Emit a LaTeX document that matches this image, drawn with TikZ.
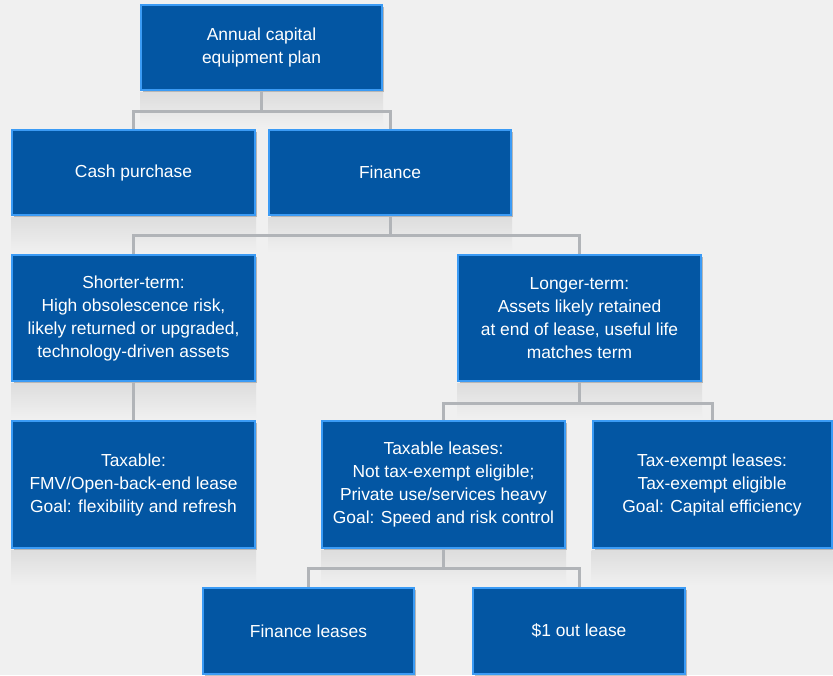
\documentclass[tikz,border=0pt]{standalone}
\usepackage{fontspec}
\setmainfont{Liberation Sans}
\usetikzlibrary{shadows,backgrounds,calc}
\definecolor{bgc}{HTML}{F0F0F0}
\definecolor{boxfill}{HTML}{0356A3}
\definecolor{boxline}{HTML}{3B9BF5}
\definecolor{conn}{HTML}{B1B4B8}
\definecolor{refl}{HTML}{DDDDDD}
\begin{document}
\begin{tikzpicture}[x=1pt,y=1pt,
  box/.style={draw=boxline, line width=2pt, fill=boxfill, text=white,
    align=center, inner sep=0pt, font=\fontsize{17.4}{23}\selectfont,
    drop shadow={shadow xshift=2pt, shadow yshift=-2pt, opacity=0.35, fill=black!70}},
  link/.style={draw=conn, line width=3pt}]
\useasboundingbox (0,0) rectangle (833,-675);
\node[box, minimum width=241pt, minimum height=85pt] (root) at (261.5,-47.5) {Annual capital\\equipment plan};
\node[box, minimum width=243pt, minimum height=85pt] (cash) at (133.5,-172.5) {Cash purchase};
\node[box, minimum width=242pt, minimum height=85pt] (fin) at (390,-172.5) {Finance};
\node[box, minimum width=243pt, minimum height=126pt] (short) at (133.5,-318) {Shorter-term:\\High obsolescence risk,\\likely returned or upgraded,\\technology-driven assets};
\node[box, minimum width=243pt, minimum height=126pt] (long) at (579.5,-318) {Longer-term:\\Assets likely retained\\at end of lease, useful life\\matches term};
\node[box, minimum width=243pt, minimum height=127pt] (tax) at (133.5,-484.5) {Taxable:\\FMV/Open-back-end lease\\Goal: flexibility and refresh};
\node[box, minimum width=243pt, minimum height=127pt] (tl) at (443.5,-484.5) {Taxable leases:\\Not tax-exempt eligible;\\Private use/services heavy\\Goal: Speed and risk control};
\node[box, minimum width=239pt, minimum height=127pt] (te) at (712,-484.5) {Tax-exempt leases:\\Tax-exempt eligible\\Goal: Capital efficiency};
\node[box, minimum width=211pt, minimum height=86pt] (fl) at (308.5,-631) {Finance leases};
\node[box, minimum width=212pt, minimum height=86pt] (one) at (579,-631) {\$1 out lease};
\begin{scope}[on background layer]
  \fill[bgc] (0,0) rectangle (833,-675);
  \foreach \n in {root,cash,fin,short,long,tax,tl,te}{
    \shade[top color=refl, bottom color=bgc] ([yshift=-1pt]\n.south west) rectangle ([yshift=-36pt]\n.south east);
  }
\end{scope}
% connectors
\draw[link] (root.south) -- ++(0,-20.5) coordinate (j1);
\draw[link] (cash.north) |- (j1) -| (fin.north);
\draw[link] (fin.south) -- ++(0,-19) coordinate (j2);
\draw[link] (short.north) |- (j2) -| (long.north);
\draw[link] (short.south) -- (tax.north);
\draw[link] (long.south) -- ++(0,-21) coordinate (j3);
\draw[link] (tl.north) |- (j3) -| (te.north);
\draw[link] (tl.south) -- ++(0,-19) coordinate (j4);
\draw[link] (fl.north) |- (j4) -| (one.north);
\end{tikzpicture}
\end{document}
